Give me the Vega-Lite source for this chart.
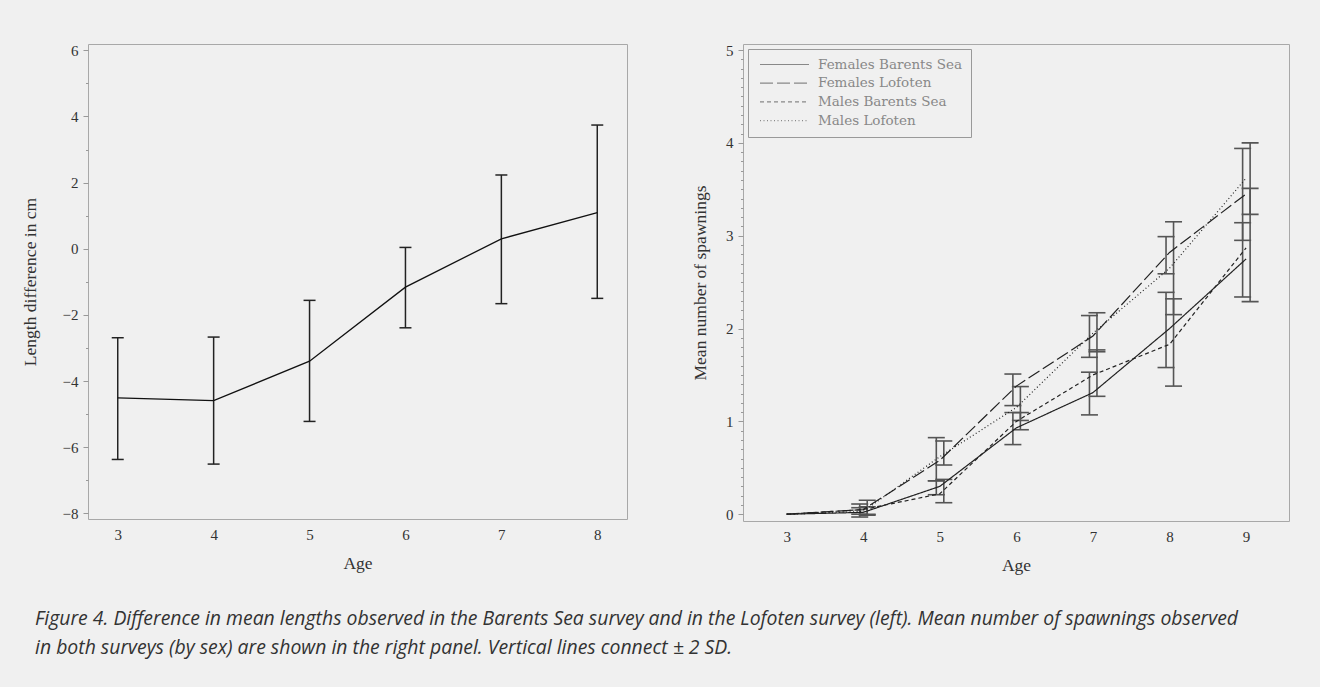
{
  "$schema": "https://vega.github.io/schema/vega-lite/v6.json",
  "background": "#f0f0f0",
  "padding": {"left": 21, "top": 42, "right": 30, "bottom": 30},
  "bounds": "flush",
  "spacing": 116,
  "resolve": {"legend": {"strokeDash": "independent"}},
  "title": {
    "text": ["Figure 4. Difference in mean lengths observed in the Barents Sea survey and in the Lofoten survey (left). Mean number of spawnings observed", "in both surveys (by sex) are shown in the right panel. Vertical lines connect ± 2 SD."],
    "orient": "bottom",
    "anchor": "start",
    "frame": "bounds",
    "font": "Open Sans",
    "fontStyle": "italic",
    "fontWeight": "normal",
    "fontSize": 19.4,
    "color": "#333333",
    "lineHeight": 29,
    "offset": 36,
    "dx": 14
  },
  "datasets": {
    "left": [
      {"age": 3, "diff": -4.51, "lo": -6.37, "hi": -2.69},
      {"age": 4, "diff": -4.59, "lo": -6.51, "hi": -2.67},
      {"age": 5, "diff": -3.40, "lo": -5.22, "hi": -1.56},
      {"age": 6, "diff": -1.16, "lo": -2.39, "hi": 0.04},
      {"age": 7, "diff": 0.30, "lo": -1.66, "hi": 2.23},
      {"age": 8, "diff": 1.09, "lo": -1.50, "hi": 3.74}
    ],
    "right": [
      {"age": 3, "sex": "F", "group": "Females Barents Sea", "mean": 0, "lo": null, "hi": null},
      {"age": 4, "sex": "F", "group": "Females Barents Sea", "mean": 0.02, "lo": -0.03, "hi": 0.07},
      {"age": 5, "sex": "F", "group": "Females Barents Sea", "mean": 0.30, "lo": 0.21, "hi": 0.36},
      {"age": 6, "sex": "F", "group": "Females Barents Sea", "mean": 0.93, "lo": 0.75, "hi": 1.095},
      {"age": 7, "sex": "F", "group": "Females Barents Sea", "mean": 1.31, "lo": 1.07, "hi": 1.53},
      {"age": 8, "sex": "F", "group": "Females Barents Sea", "mean": 2.0, "lo": 1.58, "hi": 2.39},
      {"age": 9, "sex": "F", "group": "Females Barents Sea", "mean": 2.75, "lo": 2.34, "hi": 3.14},
      {"age": 3, "sex": "F", "group": "Females Lofoten", "mean": 0, "lo": null, "hi": null},
      {"age": 4, "sex": "F", "group": "Females Lofoten", "mean": 0.05, "lo": 0.0, "hi": 0.11},
      {"age": 5, "sex": "F", "group": "Females Lofoten", "mean": 0.58, "lo": 0.36, "hi": 0.825},
      {"age": 6, "sex": "F", "group": "Females Lofoten", "mean": 1.38, "lo": 1.17, "hi": 1.51},
      {"age": 7, "sex": "F", "group": "Females Lofoten", "mean": 1.92, "lo": 1.69, "hi": 2.14},
      {"age": 8, "sex": "F", "group": "Females Lofoten", "mean": 2.82, "lo": 2.59, "hi": 2.99},
      {"age": 9, "sex": "F", "group": "Females Lofoten", "mean": 3.45, "lo": 2.95, "hi": 3.94},
      {"age": 3, "sex": "M", "group": "Males Barents Sea", "mean": 0, "lo": null, "hi": null},
      {"age": 4, "sex": "M", "group": "Males Barents Sea", "mean": 0.05, "lo": 0.0, "hi": 0.15},
      {"age": 5, "sex": "M", "group": "Males Barents Sea", "mean": 0.22, "lo": 0.124, "hi": 0.375},
      {"age": 6, "sex": "M", "group": "Males Barents Sea", "mean": 1.0, "lo": 0.91, "hi": 1.095},
      {"age": 7, "sex": "M", "group": "Males Barents Sea", "mean": 1.5, "lo": 1.27, "hi": 1.77},
      {"age": 8, "sex": "M", "group": "Males Barents Sea", "mean": 1.83, "lo": 1.38, "hi": 2.32},
      {"age": 9, "sex": "M", "group": "Males Barents Sea", "mean": 2.87, "lo": 2.29, "hi": 3.51},
      {"age": 3, "sex": "M", "group": "Males Lofoten", "mean": 0, "lo": null, "hi": null},
      {"age": 4, "sex": "M", "group": "Males Lofoten", "mean": 0.03, "lo": -0.01, "hi": 0.08},
      {"age": 5, "sex": "M", "group": "Males Lofoten", "mean": 0.62, "lo": 0.53, "hi": 0.789},
      {"age": 6, "sex": "M", "group": "Males Lofoten", "mean": 1.15, "lo": 1.01, "hi": 1.375},
      {"age": 7, "sex": "M", "group": "Males Lofoten", "mean": 1.95, "lo": 1.75, "hi": 2.17},
      {"age": 8, "sex": "M", "group": "Males Lofoten", "mean": 2.65, "lo": 2.15, "hi": 3.15},
      {"age": 9, "sex": "M", "group": "Males Lofoten", "mean": 3.62, "lo": 3.23, "hi": 4.0}
    ]
  },
  "hconcat": [
    {
      "width": 539,
      "height": 475,
      "data": {"name": "left"},
      "encoding": {
        "x": {
          "field": "age", "type": "quantitative",
          "scale": {"domain": [2.69, 8.31], "nice": false, "zero": false},
          "axis": {"values": [3, 4, 5, 6, 7, 8], "title": "Age", "ticks": false, "labelPadding": 8, "titlePadding": 12}
        }
      },
      "layer": [
        {
          "mark": {"type": "rule", "color": "#bbbbbb", "strokeWidth": 2},
          "encoding": {"y": {"datum": 0}}
        },
        {
          "mark": {"type": "rule", "color": "#222222", "strokeWidth": 1.5},
          "encoding": {
            "y": {
              "field": "lo", "type": "quantitative",
              "scale": {"domain": [-8.17, 6.19], "nice": false, "zero": false},
              "axis": {
                "values": [-8, -7, -6, -5, -4, -3, -2, -1, 0, 1, 2, 3, 4, 5, 6],
                "tickCount": 100,
                "labelExpr": "datum.value % 2 === 0 ? format(datum.value, 'd') : ''",
                "labelOverlap": false,
                "tickSize": {"condition": {"test": "datum.value % 2 === 0", "value": 5}, "value": 2.5},
                "labelPadding": 5,
                "title": "Length difference in cm",
                "titlePadding": 22.5
              }
            },
            "y2": {"field": "hi"}
          }
        },
        {
          "mark": {"type": "tick", "orient": "horizontal", "size": 12, "thickness": 1.5, "color": "#222222", "opacity": 1},
          "encoding": {"y": {"field": "lo", "type": "quantitative"}}
        },
        {
          "mark": {"type": "tick", "orient": "horizontal", "size": 12, "thickness": 1.5, "color": "#222222", "opacity": 1},
          "encoding": {"y": {"field": "hi", "type": "quantitative"}}
        },
        {
          "mark": {"type": "line", "color": "#111111", "strokeWidth": 1.3},
          "encoding": {"y": {"field": "diff", "type": "quantitative"}}
        }
      ]
    },
    {
      "width": 546,
      "height": 477,
      "data": {"name": "right"},
      "encoding": {
        "x": {
          "field": "age", "type": "quantitative",
          "scale": {"domain": [2.43, 9.56], "nice": false, "zero": false},
          "axis": {"values": [3, 4, 5, 6, 7, 8, 9], "title": "Age", "ticks": false, "labelPadding": 8, "titlePadding": 12}
        }
      },
      "layer": [
        {
          "transform": [{"filter": "datum.sex === 'F'"}],
          "mark": {"type": "rule", "color": "#555555", "strokeWidth": 1.6, "xOffset": -3.5},
          "encoding": {
            "y": {
              "field": "lo", "type": "quantitative",
              "scale": {"domain": [-0.073, 5.065], "nice": false, "zero": false},
              "axis": {
                "values": [0, 0.1, 0.2, 0.3, 0.4, 0.5, 0.6, 0.7, 0.8, 0.9, 1, 1.1, 1.2, 1.3, 1.4, 1.5, 1.6, 1.7, 1.8, 1.9, 2, 2.1, 2.2, 2.3, 2.4, 2.5, 2.6, 2.7, 2.8, 2.9, 3, 3.1, 3.2, 3.3, 3.4, 3.5, 3.6, 3.7, 3.8, 3.9, 4, 4.1, 4.2, 4.3, 4.4, 4.5, 4.6, 4.7, 4.8, 4.9, 5],
                "tickCount": 100,
                "labelExpr": "abs(datum.value - round(datum.value)) < 0.001 ? format(round(datum.value), 'd') : ''",
                "labelOverlap": false,
                "tickSize": {"condition": {"test": "abs(datum.value - round(datum.value)) < 0.001", "value": 5}, "value": 2.5},
                "labelPadding": 5,
                "title": "Mean number of spawnings",
                "titlePadding": 16.5
              }
            },
            "y2": {"field": "hi"}
          }
        },
        {
          "transform": [{"filter": "datum.sex === 'F'"}],
          "mark": {"type": "tick", "orient": "horizontal", "size": 17, "thickness": 1.6, "color": "#555555", "opacity": 1, "xOffset": -3.5},
          "encoding": {"y": {"field": "lo", "type": "quantitative"}}
        },
        {
          "transform": [{"filter": "datum.sex === 'F'"}],
          "mark": {"type": "tick", "orient": "horizontal", "size": 17, "thickness": 1.6, "color": "#555555", "opacity": 1, "xOffset": -3.5},
          "encoding": {"y": {"field": "hi", "type": "quantitative"}}
        },
        {
          "transform": [{"filter": "datum.sex === 'M'"}],
          "mark": {"type": "rule", "color": "#555555", "strokeWidth": 1.6, "xOffset": 4},
          "encoding": {"y": {"field": "lo", "type": "quantitative"}, "y2": {"field": "hi"}}
        },
        {
          "transform": [{"filter": "datum.sex === 'M'"}],
          "mark": {"type": "tick", "orient": "horizontal", "size": 17, "thickness": 1.6, "color": "#555555", "opacity": 1, "xOffset": 4},
          "encoding": {"y": {"field": "lo", "type": "quantitative"}}
        },
        {
          "transform": [{"filter": "datum.sex === 'M'"}],
          "mark": {"type": "tick", "orient": "horizontal", "size": 17, "thickness": 1.6, "color": "#555555", "opacity": 1, "xOffset": 4},
          "encoding": {"y": {"field": "hi", "type": "quantitative"}}
        },
        {
          "mark": {"type": "line", "color": "#222222", "strokeWidth": 1.2},
          "encoding": {
            "y": {"field": "mean", "type": "quantitative"},
            "detail": {"field": "group"},
            "strokeDash": {
              "field": "group", "type": "nominal",
              "scale": {
                "domain": ["Females Barents Sea", "Females Lofoten", "Males Barents Sea", "Males Lofoten"],
                "range": [[1, 0], [13, 4], [4, 3], [1, 2.5]]
              },
              "legend": {
                "title": null,
                "orient": "top-left",
                "offset": 5,
                "strokeColor": "#999999",
                "fillColor": "#f0f0f0",
                "padding": 8,
                "symbolType": "stroke",
                "symbolSize": 2400,
                "clipHeight": 15,
                "symbolStrokeWidth": 1.2,
                "symbolStrokeColor": "#888888",
                "symbolOffset": 3,
                "labelFont": "DejaVu Serif",
                "labelFontSize": 13.5,
                "labelColor": "#888888",
                "labelOffset": 8,
                "rowPadding": 3.7
              }
            }
          }
        }
      ]
    }
  ],
  "config": {
    "view": {"stroke": "#a8a8a8", "strokeWidth": 1},
    "axis": {
      "domain": false,
      "grid": false,
      "tickColor": "#999999",
      "labelFont": "Liberation Serif",
      "labelFontSize": 15,
      "labelColor": "#333333",
      "titleFont": "Liberation Serif",
      "titleFontSize": 17.5,
      "titleFontWeight": "normal",
      "titleColor": "#333333"
    }
  }
}
